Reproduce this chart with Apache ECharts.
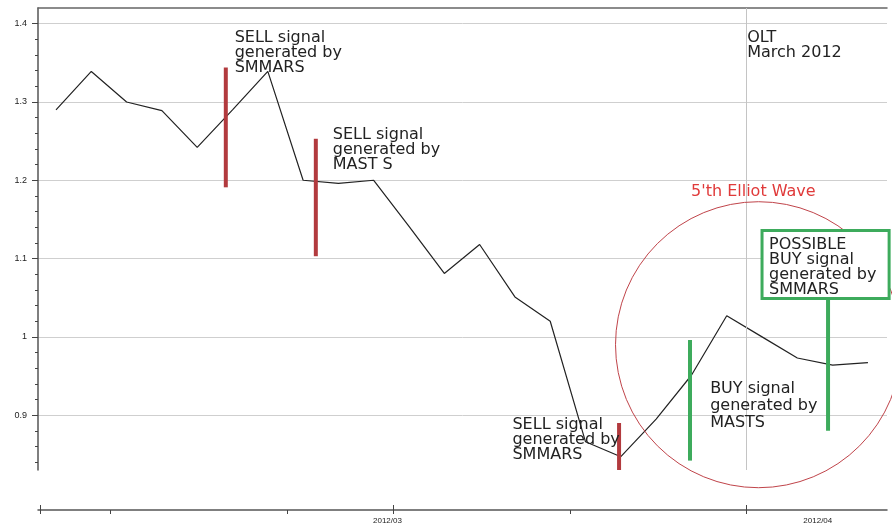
<!DOCTYPE html>
<html>
<head>
<meta charset="utf-8">
<script src="https://cdn.jsdelivr.net/npm/echarts@6/dist/echarts.min.js"></script>
<style>
html, body { margin: 0; padding: 0; background: #fff; }
#main { width: 892px; height: 527px; }
</style>
</head>
<body>
<div id="main"></div>
<script>
// closing prices, one per step on the x axis
var prices = [1.29, 1.339, 1.30, 1.289, 1.242, 1.29, 1.339, 1.20, 1.196, 1.20, 1.141, 1.081,
              1.118, 1.051, 1.020, 0.866, 0.847, 0.895, 0.951, 1.027, 1.0, 0.973, 0.964, 0.967];

// signal bars: [x, low, high]
var sellSignals = [[4.81, 1.191, 1.344], [7.36, 1.103, 1.253], [15.95, 0.83, 0.89]];
var buySignals = [[17.96, 0.842, 0.996], [21.87, 0.88, 1.047]];

// axis ticks
var yLabels = [0.9, 1, 1.1, 1.2, 1.3, 1.4];
var yMinorTicks = [0.84, 0.86, 0.88, 0.92, 0.94, 0.96, 0.98, 1.02, 1.04, 1.06, 1.08,
                   1.12, 1.14, 1.16, 1.18, 1.22, 1.24, 1.26, 1.28, 1.32, 1.34, 1.36, 1.38];
var xTicks = [1.53, 6.54, 14.57];
var xMajorTicks = [-0.45, 9.54, 19.55];
var xLabelPos = [9.39, 21.58];
var xLabels = ['2012/03', '2012/04'];
var markerX = 19.55;

var X_MIN = -0.51, X_MAX = 23.54, Y_MIN = 0.83, Y_MAX = 1.42;
var TXT = 'DejaVu Sans';

var chart = echarts.init(document.getElementById('main'));

function renderSignal(params, api) {
    var top = api.coord([api.value(0), api.value(2)]);
    var bottom = api.coord([api.value(0), api.value(1)]);
    return {
        type: 'line',
        shape: {x1: top[0], y1: top[1], x2: bottom[0], y2: bottom[1]},
        style: {stroke: api.visual('color'), lineWidth: 4}
    };
}

chart.setOption({
    animation: false,
    backgroundColor: '#fff',
    grid: {left: 38, right: 5, top: 8, bottom: 57, outerBoundsMode: 'none'},
    xAxis: [{
        type: 'value', position: 'bottom', offset: 40, min: X_MIN, max: X_MAX,
        axisLine: {show: true, onZero: false, lineStyle: {color: '#555', width: 1.5}},
        axisTick: {show: true, length: 4, customValues: xTicks.concat(xMajorTicks), lineStyle: {color: '#444'}},
        axisLabel: {
            customValues: xLabelPos, margin: 7, color: '#222', fontSize: 8, fontFamily: 'Liberation Sans',
            formatter: function (v) {
                var best = 0;
                xLabelPos.forEach(function (p, i) { if (Math.abs(p - v) < Math.abs(xLabelPos[best] - v)) best = i; });
                return xLabels[best];
            }
        },
        splitLine: {show: false}
    }, {
        type: 'value', position: 'top', min: X_MIN, max: X_MAX,
        axisLine: {show: true, onZero: false, lineStyle: {color: '#666', width: 1.5}},
        axisTick: {show: false}, axisLabel: {show: false}, splitLine: {show: false}
    }, {
        type: 'value', position: 'bottom', offset: 40, min: X_MIN, max: X_MAX,
        axisLine: {show: false, onZero: false},
        axisTick: {show: true, inside: true, length: 5, customValues: xMajorTicks, lineStyle: {color: '#444'}},
        axisLabel: {show: false}, splitLine: {show: false}
    }],
    yAxis: [{
        type: 'value', position: 'left', min: Y_MIN, max: Y_MAX,
        axisLine: {show: true, onZero: false, lineStyle: {color: '#555', width: 1.5}},
        axisTick: {show: true, length: 6, customValues: yLabels, lineStyle: {color: '#444'}},
        axisLabel: {customValues: yLabels, margin: 11, color: '#222', fontSize: 9, fontFamily: 'Liberation Sans'},
        splitLine: {show: true, lineStyle: {color: '#cfcfcf', width: 1}}
    }, {
        type: 'value', position: 'left', min: Y_MIN, max: Y_MAX,
        axisLine: {show: false, onZero: false},
        axisTick: {show: true, length: 3, customValues: yMinorTicks, lineStyle: {color: '#444'}},
        axisLabel: {show: false}, splitLine: {show: false}
    }],
    series: [{
        type: 'line',
        data: prices.map(function (v, i) { return [i, v]; }),
        showSymbol: false,
        lineStyle: {color: '#222', width: 1.2},
        markLine: {
            silent: true, symbol: 'none', label: {show: false},
            lineStyle: {color: '#c4c4c4', width: 1, type: 'solid'},
            data: [{xAxis: markerX}]
        },
        z: 3
    }, {
        type: 'custom', renderItem: renderSignal, data: sellSignals,
        encode: {x: 0, y: [1, 2]}, itemStyle: {color: '#b23a3e'}, z: 4
    }, {
        type: 'custom', renderItem: renderSignal, data: buySignals,
        encode: {x: 0, y: [1, 2]}, itemStyle: {color: '#3dab5c'}, z: 4
    }]
});

// annotations, anchored in data coordinates (top-left of each text block)
var notes = [
    {at: [5.06, 1.392], text: 'SELL signal\ngenerated by\nSMMARS', lh: 15},
    {at: [7.84, 1.268], text: 'SELL signal\ngenerated by\nMAST S', lh: 15},
    {at: [12.93, 0.897], text: 'SELL signal\ngenerated by\nSMMARS', lh: 15},
    {at: [18.53, 0.944], text: 'BUY signal\ngenerated by\nMASTS', lh: 17},
    {at: [19.58, 1.391], text: 'OLT\nMarch 2012', lh: 15},
    {at: [17.99, 1.195], text: "5'th Elliot Wave", lh: 15, color: '#e03a3a'}
];
var boxAt = [20.0, 1.136], boxEnd = [23.6, 1.049];
var circleAt = [19.9, 0.99];

var graphics = [];
var c = chart.convertToPixel({gridIndex: 0}, circleAt);
graphics.push({
    type: 'circle', shape: {cx: c[0], cy: c[1], r: 143}, silent: true, z: 5,
    style: {fill: 'none', stroke: '#c0444a', lineWidth: 1}
});
var b0 = chart.convertToPixel({gridIndex: 0}, boxAt);
var b1 = chart.convertToPixel({gridIndex: 0}, boxEnd);
graphics.push({
    type: 'rect', shape: {x: b0[0], y: b0[1], width: b1[0] - b0[0], height: b1[1] - b0[1]}, z: 6,
    style: {fill: '#fff', stroke: '#3dab5c', lineWidth: 3}
});
graphics.push({
    type: 'text', x: b0[0] + 7, y: b0[1] + 7, z: 7,
    style: {text: 'POSSIBLE\nBUY signal\ngenerated by\nSMMARS', font: '16px "' + TXT + '"', fill: '#222', lineHeight: 15, verticalAlign: 'top'}
});
notes.forEach(function (n) {
    var p = chart.convertToPixel({gridIndex: 0}, n.at);
    graphics.push({
        type: 'text', x: p[0], y: p[1], z: 7,
        style: {text: n.text, font: '16px "' + TXT + '"', fill: n.color || '#222', lineHeight: n.lh, verticalAlign: 'top'}
    });
});
chart.setOption({graphic: graphics});
</script>
</body>
</html>
